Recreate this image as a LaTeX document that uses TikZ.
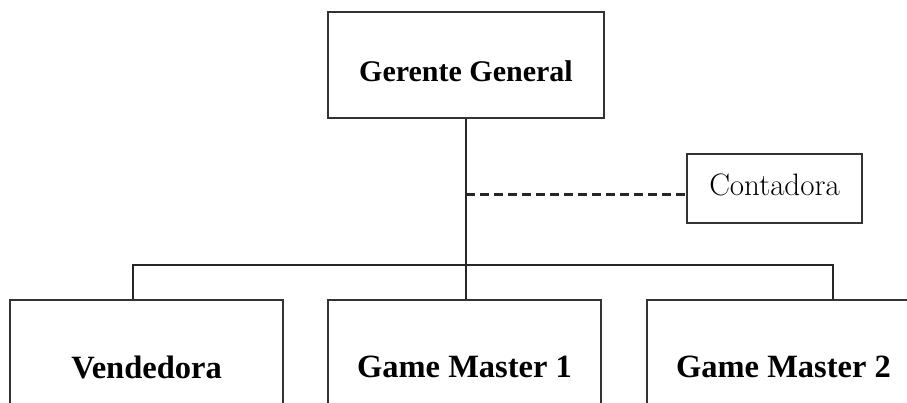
\documentclass[tikz,border=0pt]{standalone}
\usepackage{fontspec}
\newfontfamily\timesfont{Liberation Serif}
\usetikzlibrary{positioning}

\begin{document}
\begin{tikzpicture}[
  x=1pt, y=-1pt,
  rolebox/.style={draw=black!80, line width=2pt, align=center, inner sep=0pt,
    font=\timesfont\bfseries\fontsize{30}{32}\selectfont},
  subbox/.style={rolebox, minimum width=273pt, minimum height=134pt,
    font=\timesfont\bfseries\fontsize{32.5}{34}\selectfont},
  staffbox/.style={draw=black!80, line width=2pt, align=center, inner sep=0pt,
    font=\fontsize{31}{33}\selectfont},
  link/.style={draw=black!85, line width=2pt},
  dashlink/.style={draw=black!85, line width=2.2pt, dash pattern=on 9pt off 5pt}
]
\useasboundingbox[fill=white] (0,0) rectangle (907,403);

\node[rolebox, minimum width=276pt, minimum height=106pt, text height=34pt, text depth=0pt]
  (gerente) at (466,65) {Gerente General};
\node[staffbox, minimum width=175pt, minimum height=69pt, text height=14pt, text depth=0pt]
  (conta) at (774.5,188.5) {Contadora};

\node[subbox] (vend) at (146.5,367) {Vendedora};
\node[subbox] (gm1) at (464.5,367) {Game Master 1};
\node[subbox] (gm2) at (783.5,367) {Game Master 2};

\coordinate (busL) at (133,265);
\coordinate (busR) at (833,265);
\coordinate (tap) at ([yshift=-6pt]conta.west);

\draw[link] (gerente.south) -- (gerente.south |- gm1.north);
\draw[dashlink] (gerente.south |- tap) -- (tap);
\draw[link] (busL |- vend.north) -- (busL) -- (busR) -- (busR |- gm2.north);

\end{tikzpicture}
\end{document}
